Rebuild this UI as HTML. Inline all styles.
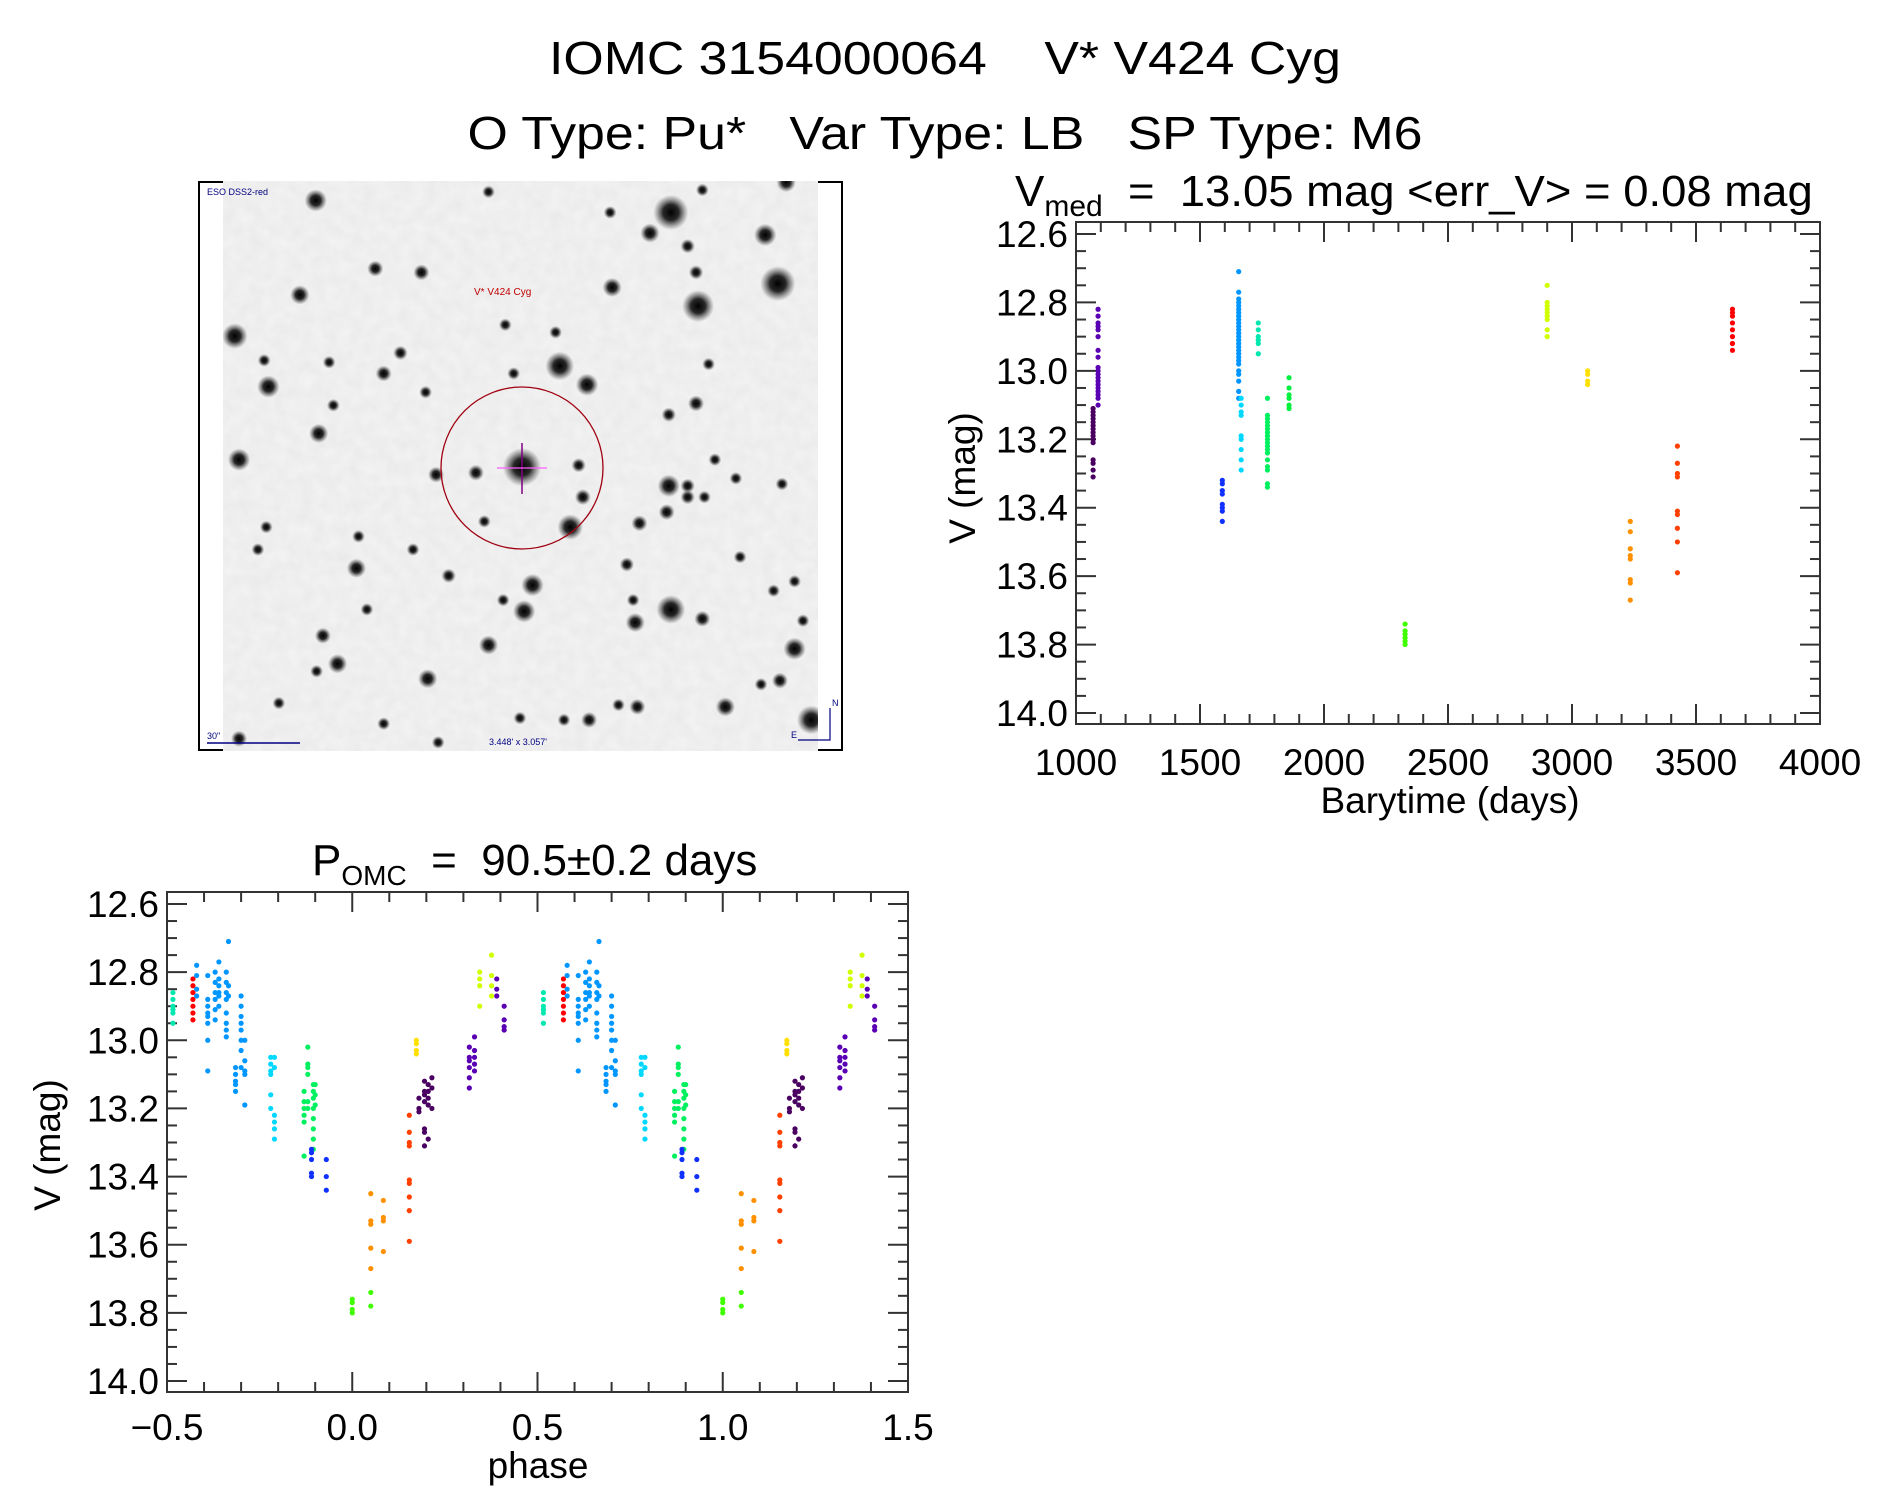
<!DOCTYPE html>
<html><head><meta charset="utf-8"><style>
html,body{margin:0;padding:0;background:#fff;}
svg{display:block;font-family:"Liberation Sans Narrow","Liberation Sans",sans-serif;}
text{white-space:pre;}
</style></head><body>
<svg id="fig" width="1889" height="1494" viewBox="0 0 1889 1494" xmlns="http://www.w3.org/2000/svg" xml:space="preserve">
<defs>
<radialGradient id="starg"><stop offset="0" stop-color="#000" stop-opacity="1"/><stop offset="0.45" stop-color="#111" stop-opacity="0.9"/><stop offset="1" stop-color="#444" stop-opacity="0"/></radialGradient>
<filter id="noise" x="0" y="0" width="1" height="1"><feTurbulence type="fractalNoise" baseFrequency="0.08" numOctaves="2" seed="3"/><feColorMatrix values="0 0 0 0 0.5  0 0 0 0 0.5  0 0 0 0 0.5  0 0 0 0.2 0"/></filter>
<clipPath id="imgclip"><rect x="223" y="181" width="595" height="570"/></clipPath>
</defs>
<text x="945" y="74" font-size="46" text-anchor="middle" textLength="792" lengthAdjust="spacingAndGlyphs">IOMC 3154000064    V* V424 Cyg</text>
<text x="945" y="149" font-size="46" text-anchor="middle" textLength="955" lengthAdjust="spacingAndGlyphs">O Type: Pu*   Var Type: LB   SP Type: M6</text>
<g id="img"></g>
<g id="top"></g>
<g id="bot"></g>
</svg>
<script>
// ---------- light curve data (time plot) ----------
const lcColors = ['#4a0060','#5a00b4','#1030ff','#0096ff','#00d8ff','#00e8b0','#00f060','#00f040','#40ff00','#d0ff00','#ffe000','#ff9000','#ff4000','#ff0000'];
const lcTimes = [1069,1089,1590,1656,1666,1735,1772,1859,2327,2900,3063,3235,3425,3647];
const lcMags = [
 [13.11,13.12,13.13,13.14,13.15,13.16,13.17,13.18,13.19,13.2,13.21,13.26,13.27,13.29,13.31],
 [12.82,12.84,12.86,12.87,12.88,12.9,12.94,12.96,12.99,13.0,13.01,13.02,13.03,13.04,13.05,13.06,13.07,13.08,13.1],
 [13.32,13.33,13.35,13.36,13.39,13.40,13.41,13.44],
 [12.71,12.77,12.79,12.8,12.81,12.82,12.83,12.84,12.85,12.86,12.87,12.88,12.89,12.9,12.91,12.92,12.93,12.94,12.95,12.96,12.97,12.98,13.0,13.01,13.03,13.06,13.08],
 [13.08,13.1,13.12,13.13,13.19,13.2,13.23,13.26,13.29],
 [12.86,12.88,12.9,12.91,12.92,12.95],
 [13.08,13.13,13.14,13.15,13.16,13.17,13.18,13.19,13.2,13.21,13.22,13.23,13.24,13.26,13.28,13.29,13.33,13.34],
 [13.02,13.05,13.07,13.08,13.1,13.11],
 [13.74,13.76,13.77,13.78,13.79,13.8],
 [12.75,12.8,12.81,12.82,12.83,12.84,12.85,12.88,12.9],
 [13.0,13.01,13.03,13.04],
 [13.44,13.47,13.52,13.54,13.55,13.61,13.62,13.67],
 [13.22,13.27,13.3,13.31,13.41,13.42,13.46,13.5,13.59],
 [12.82,12.83,12.84,12.86,12.88,12.9,12.92,12.94]
];
const lcXTicks = [1000,1500,2000,2500,3000,3500,4000];
const magTicks = [12.6,12.8,13.0,13.2,13.4,13.6,13.8,14.0];
// ---------- phase plot data ----------
const phColors = ['#00e8b0','#ff0000','#0096ff','#0096ff','#0096ff','#0096ff','#0096ff','#0096ff','#0096ff','#0096ff','#0096ff','#00d8ff','#00d8ff','#00f060','#00f060','#00f060','#00f060','#1030ff','#1030ff','#40ff00','#40ff00','#ff9000','#ff9000','#ff4000','#ffe000','#4a0060','#4a0060','#4a0060','#4a0060','#5a00b4','#5a00b4','#d0ff00','#d0ff00','#5a00b4','#5a00b4'];
const phPhases = [-0.484,-0.43,-0.42,-0.39,-0.37,-0.36,-0.34,-0.334,-0.315,-0.30,-0.29,-0.22,-0.21,-0.13,-0.12,-0.105,-0.10,-0.11,-0.07,0.0,0.05,0.05,0.084,0.154,0.173,0.18,0.195,0.205,0.215,0.316,0.33,0.344,0.376,0.39,0.41];
const phMags = [
 [12.86,12.88,12.9,12.91,12.92,12.95],
 [12.82,12.84,12.86,12.88,12.9,12.92,12.94],
 [12.78,12.81,12.85,12.87],
 [12.81,12.88,12.9,12.92,12.93,12.95,13.0,13.09],
 [12.8,12.83,12.86,12.88,12.91,12.94],
 [12.77,12.82,12.84,12.86,12.87,12.9],
 [12.8,12.83,12.86,12.88,12.92,12.95,12.97,12.99],
 [12.71,12.84,12.87],
 [13.08,13.1,13.12,13.13,13.15],
 [12.87,12.9,12.93,12.95,12.97,13.0,13.03,13.08],
 [13.0,13.06,13.09,13.1,13.19],
 [13.05,13.07,13.09,13.1,13.16,13.2],
 [13.05,13.08,13.22,13.24,13.26,13.29],
 [13.15,13.18,13.2,13.22,13.24,13.34],
 [13.02,13.07,13.08,13.1,13.18,13.2],
 [13.13,13.15,13.17,13.2,13.23,13.26,13.29,13.32],
 [13.13,13.16,13.19],
 [13.32,13.33,13.35,13.39,13.4],
 [13.35,13.4,13.44],
 [13.76,13.77,13.79,13.8],
 [13.74,13.78],
 [13.45,13.53,13.54,13.61,13.67],
 [13.47,13.52,13.53,13.62],
 [13.22,13.27,13.3,13.31,13.41,13.42,13.46,13.5,13.59],
 [13.0,13.01,13.03,13.04],
 [13.17,13.2,13.21],
 [13.12,13.15,13.16,13.18,13.26,13.27,13.31],
 [13.13,13.15,13.17,13.19,13.29],
 [13.11,13.14,13.2],
 [13.02,13.05,13.06,13.08,13.11,13.14],
 [12.99,13.03,13.05,13.07,13.09],
 [12.8,12.82,12.84,12.9],
 [12.75,12.81,12.84,12.87],
 [12.82,12.85,12.87],
 [12.9,12.94,12.96,12.97]
];
const phXTicks = [-0.5,0.0,0.5,1.0,1.5];
const phXLabels = ['\u22120.5','0.0','0.5','1.0','1.5'];

const NS='http://www.w3.org/2000/svg';
function mk(tag,attrs,parent){const e=document.createElementNS(NS,tag);for(const k in attrs)e.setAttribute(k,attrs[k]);parent.appendChild(e);return e;}

function drawAxes(g,box,xr,yr,xmaj,xmin,ymaj,ymin,xlab){
  const sx=v=>box.x0+(v-xr[0])/(xr[1]-xr[0])*(box.x1-box.x0);
  const sy=v=>box.y0+(v-yr[0])/(yr[1]-yr[0])*(box.y1-box.y0);
  const top=box.y0-12,bot=box.y1+11;
  const fr=mk('rect',{x:box.x0,y:top,width:box.x1-box.x0,height:bot-top,fill:'none',stroke:'#333','stroke-width':2},g);
  
  
  const nx=Math.round((xr[1]-xr[0])/xmin), per=Math.round(xmaj/xmin);
  for(let i=0;i<=nx;i++){
    const v=xr[0]+i*xmin, L=(i%per===0)?20:10, x=sx(v);
    mk('line',{x1:x,y1:bot,x2:x,y2:bot-L,stroke:'#333','stroke-width':2},g);
    mk('line',{x1:x,y1:top,x2:x,y2:top+L,stroke:'#333','stroke-width':2},g);
  }
  const ny=Math.round((yr[1]-yr[0])/ymin), pery=Math.round(ymaj/ymin);
  for(let i=0;i<=ny;i++){
    const v=yr[0]+i*ymin, L=(i%pery===0)?20:10, y=sy(v);
    mk('line',{x1:box.x0,y1:y,x2:box.x0+L,y2:y,stroke:'#333','stroke-width':2},g);
    mk('line',{x1:box.x1,y1:y,x2:box.x1-L,y2:y,stroke:'#333','stroke-width':2},g);
  }
  xlab.ticks.forEach((v,i)=>{
    const t=mk('text',{x:sx(v),y:xlab.y,'font-size':37,'text-anchor':'middle'},g);
    t.textContent=xlab.labels[i];
    
    
  });
  magTicks.forEach(v=>{
    const t=mk('text',{x:box.x0-8,y:sy(v)+13,'font-size':37,'text-anchor':'end'},g);
    t.textContent=v.toFixed(1);
    
    
  });
  return {sx,sy};
}
function dot(g,x,y,c){
  const d=mk('circle',{cx:x,cy:y,r:2.6,fill:c},g);
  
  
}

// top plot
(function(){
  const g=document.getElementById('top');
  const box={x0:1076,x1:1820,y0:234,y1:713};
  const a=drawAxes(g,box,[1000,4000],[12.6,14.0],500,100,0.2,0.05,{ticks:lcXTicks,labels:lcXTicks.map(String),y:775});
  lcTimes.forEach((t,i)=>lcMags[i].forEach(m=>dot(g,a.sx(t),a.sy(m),lcColors[i])));
  let t=mk('text',{x:1015,y:206,'font-size':44},g);
  
  
  t.innerHTML='V<tspan font-size="30" dy="10">med</tspan><tspan dy="-10" textLength="710" lengthAdjust="spacingAndGlyphs">  =  13.05 mag &lt;err_V&gt; = 0.08 mag</tspan>';
  t=mk('text',{x:1450,y:813,'font-size':37,'text-anchor':'middle'},g);t.textContent='Barytime (days)';
  
  
  t=mk('text',{x:0,y:0,'font-size':37,'text-anchor':'middle',transform:'translate(975,478) rotate(-90)'},g);t.textContent='V (mag)';
  
  
})();
// phase plot
(function(){
  const g=document.getElementById('bot');
  const box={x0:167,x1:908,y0:904,y1:1381};
  const a=drawAxes(g,box,[-0.5,1.5],[12.6,14.0],0.5,0.1,0.2,0.05,{ticks:phXTicks,labels:phXLabels,y:1440});
  phPhases.forEach((p,i)=>phMags[i].forEach(m=>{dot(g,a.sx(p),a.sy(m),phColors[i]);dot(g,a.sx(p+1),a.sy(m),phColors[i]);}));
  let t=mk('text',{x:312,y:875,'font-size':44},g);
  
  
  t.innerHTML='P<tspan font-size="28" dy="10">OMC</tspan><tspan dy="-10">  =  90.5±0.2 days</tspan>';
  t=mk('text',{x:538,y:1478,'font-size':37,'text-anchor':'middle'},g);t.textContent='phase';
  
  
  t=mk('text',{x:0,y:0,'font-size':37,'text-anchor':'middle',transform:'translate(60,1145) rotate(-90)'},g);t.textContent='V (mag)';
  
  
})();
// sky image (decorative)
(function(){
  const g=document.getElementById('img');
  const inner=mk('g',{'clip-path':'url(#imgclip)'},g);
  mk('rect',{x:223,y:181,width:595,height:570,fill:'#f4f4f4'},inner);
  mk('rect',{x:223,y:181,width:595,height:570,filter:'url(#noise)'},inner);
  mk('path',{d:'M223 182 H199 V750 H223 M818 182 H842 V750 H818',fill:'none',stroke:'#000','stroke-width':2},g);
  const stars=[[288,68,14],[1135,100,22],[1085,155,12],[1360,160,14],[1390,290,22],[1200,350,20],[1175,190,9],[1195,260,9],[250,320,12],[95,430,16],[430,250,10],[540,260,10],[995,300,12],[870,510,18],[935,560,14],[175,565,14],[450,530,10],[490,475,9],[165,495,8],[320,500,8],[780,780,24],[670,795,10],[575,800,10],[915,775,9],[925,860,10],[895,940,16],[690,925,8],[1130,830,14],[1175,830,9],[1175,860,9],[1215,860,8],[1125,900,10],[1060,930,10],[1195,610,10],[1130,640,9],[105,760,14],[295,690,12],[385,1050,12],[805,1095,14],[785,1165,14],[735,1135,8],[1135,1160,18],[1050,1195,12],[1210,1185,10],[1430,1265,14],[1470,1455,18],[1265,1420,12],[1395,1350,10],[1055,1420,10],[1010,1415,8],[940,1455,10],[880,1455,8],[775,1450,8],[700,1255,12],[555,1345,12],[340,1305,12],[305,1230,10],[290,1325,8],[200,1410,8],[105,1505,10],[580,1515,8],[605,1070,9],[1030,1040,9],[1300,1020,8],[1045,1135,8],[1400,825,8],[1290,810,8],[1240,760,8],[1225,505,8],[410,1160,8],[170,940,8],[390,965,8],[150,1000,8],[520,1000,8],[450,1465,8],[1380,1110,8],[1430,1085,8],[1450,1190,8],[1350,1360,8],[1210,40,8],[1410,20,12],[700,45,8],[990,100,8],[740,400,8],[860,420,8],[550,580,8],[330,615,8],[760,530,8]];
  stars.forEach(s=>{
    mk('circle',{cx:s[0]/2.385+195,cy:s[1]/2.67+175,r:s[2]*0.8,fill:'url(#starg)'},inner);
  });
  mk('ellipse',{cx:522,cy:468,rx:81,ry:81,fill:'none',stroke:'#a00010','stroke-width':1.3},g);
  mk('line',{x1:522,y1:443,x2:522,y2:494,stroke:'#800080','stroke-width':1.5},g);
  mk('line',{x1:497,y1:468,x2:547,y2:468,stroke:'#ff60ff','stroke-width':1.2},g);
  let t=mk('text',{x:474,y:295,'font-size':10,fill:'#c00000'},g);t.textContent='V* V424 Cyg';
  
  
  t=mk('text',{x:207,y:195,'font-size':9,fill:'#000080'},g);t.textContent='ESO DSS2-red';
  t=mk('text',{x:489,y:745,'font-size':9,fill:'#000080'},g);t.textContent="3.448' x 3.057'";
  t=mk('text',{x:207,y:739,'font-size':9,fill:'#000080'},g);t.textContent='30"';
  mk('line',{x1:207,y1:743,x2:300,y2:743,stroke:'#000080','stroke-width':1.5},g);
  mk('path',{d:'M798 740 H830 V708',fill:'none',stroke:'#000080','stroke-width':1.2},g);
  t=mk('text',{x:832,y:706,'font-size':9,fill:'#000080'},g);t.textContent='N';
  t=mk('text',{x:791,y:738,'font-size':9,fill:'#000080'},g);t.textContent='E';
})();
</script>
</body></html>
